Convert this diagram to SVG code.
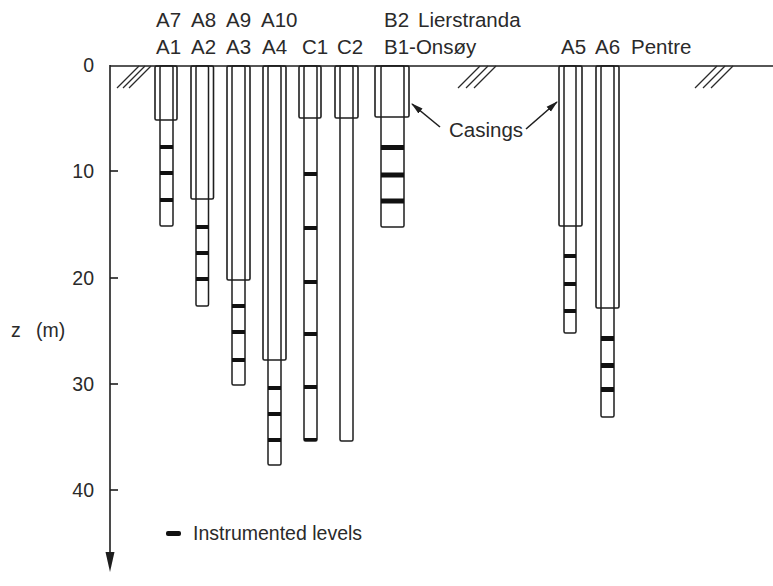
<svg xmlns="http://www.w3.org/2000/svg" width="773" height="586" viewBox="0 0 773 586">
<style>
  .t { font-family: "Liberation Sans", Arial, sans-serif; font-size: 20.5px; fill: #2a2a2a; }
  .ax { font-family: "Liberation Sans", Arial, sans-serif; font-size: 19.5px; fill: #2a2a2a; text-anchor: end; }
  .ln { fill: none; stroke: #1e1e1e; stroke-width: 1.6; }
  .cas { fill: none; stroke: #1e1e1e; stroke-width: 1.6; }
  .pile { fill: #fff; stroke: #1e1e1e; stroke-width: 1.5; }
  .mk { fill: #111; }
  .hatch { stroke: #2a2a2a; stroke-width: 1.2; fill: none; }
</style>
<defs>
  <marker id="ah" viewBox="0 0 12 8" refX="11" refY="4" markerWidth="12" markerHeight="8" markerUnits="userSpaceOnUse" orient="auto">
    <path d="M0,0.8 L12,4 L0,7.2 Z" fill="#1e1e1e"/>
  </marker>
</defs>
<rect width="773" height="586" fill="#fff"/>

<!-- axis -->
<g id="axis">
  <line class="ln" x1="110" y1="65" x2="110" y2="556"/>
  <path d="M105.5,552 L114.5,552 L110,572 Z" fill="#1e1e1e"/>
  <line class="ln" x1="110" y1="66" x2="773" y2="66"/>
  <line class="ln" x1="110" y1="171" x2="118" y2="171"/>
  <line class="ln" x1="110" y1="278" x2="118" y2="278"/>
  <line class="ln" x1="110" y1="384" x2="118" y2="384"/>
  <line class="ln" x1="110" y1="490" x2="118" y2="490"/>
  <text class="ax" x="94" y="72">0</text>
  <text class="ax" x="94" y="178">10</text>
  <text class="ax" x="94" y="285">20</text>
  <text class="ax" x="94" y="391">30</text>
  <text class="ax" x="94" y="497">40</text>
  <text class="t" x="11" y="337" style="font-size:19.5px">z</text>
  <text class="t" x="36" y="337" style="font-size:19.5px">(m)</text>
  <g class="hatch">
    <line x1="117" y1="88" x2="139" y2="66"/>
    <line x1="123" y1="88" x2="145" y2="66"/>
    <line x1="129" y1="88" x2="151" y2="66"/>
    <line x1="458" y1="88" x2="480" y2="66"/>
    <line x1="466" y1="88" x2="488" y2="66"/>
    <line x1="474" y1="88" x2="496" y2="66"/>
    <line x1="695" y1="88" x2="717" y2="66"/>
    <line x1="703" y1="88" x2="725" y2="66"/>
    <line x1="711" y1="88" x2="733" y2="66"/>
  </g>
</g>

<!-- piles -->
<g id="A1">
  <rect class="pile" x="160" y="66" width="13" height="160" rx="1.5"/>
  <rect class="cas" x="155" y="66" width="22" height="54" rx="1.5"/>
  <rect class="mk" x="160" y="145" width="13" height="4"/>
  <rect class="mk" x="160" y="171" width="13" height="4"/>
  <rect class="mk" x="160" y="198" width="13" height="4"/>
</g>
<g id="A2">
  <rect class="pile" x="196" y="66" width="12.5" height="240" rx="1.5"/>
  <rect class="cas" x="191" y="66" width="22.5" height="133" rx="1.5"/>
  <rect class="mk" x="196" y="225" width="12.5" height="4"/>
  <rect class="mk" x="196" y="251" width="12.5" height="4"/>
  <rect class="mk" x="196" y="277" width="12.5" height="4"/>
</g>
<g id="A3">
  <rect class="pile" x="232" y="66" width="13" height="319" rx="1.5"/>
  <rect class="cas" x="227" y="66" width="23" height="214" rx="1.5"/>
  <rect class="mk" x="232" y="304" width="13" height="4"/>
  <rect class="mk" x="232" y="330" width="13" height="4"/>
  <rect class="mk" x="232" y="358" width="13" height="4"/>
</g>
<g id="A4">
  <rect class="pile" x="268" y="66" width="13" height="399" rx="1.5"/>
  <rect class="cas" x="263" y="66" width="23" height="294" rx="1.5"/>
  <rect class="mk" x="268" y="386" width="13" height="4"/>
  <rect class="mk" x="268" y="412" width="13" height="4"/>
  <rect class="mk" x="268" y="438" width="13" height="4"/>
</g>
<g id="C1">
  <rect class="pile" x="304" y="66" width="13" height="375" rx="1.5"/>
  <rect class="cas" x="299" y="66" width="22" height="52" rx="1.5"/>
  <rect class="mk" x="304" y="172" width="13" height="4"/>
  <rect class="mk" x="304" y="226" width="13" height="4"/>
  <rect class="mk" x="304" y="280" width="13" height="4"/>
  <rect class="mk" x="304" y="332" width="13" height="4"/>
  <rect class="mk" x="304" y="385" width="13" height="4"/>
  <rect class="mk" x="304" y="438" width="13" height="3"/>
</g>
<g id="C2">
  <rect class="pile" x="340" y="66" width="13" height="375" rx="1.5"/>
  <rect class="cas" x="335" y="66" width="23" height="52" rx="1.5"/>
</g>
<g id="B1">
  <rect class="pile" x="381" y="66" width="23" height="161" rx="1.5"/>
  <rect class="cas" x="375" y="66" width="34" height="51" rx="1.5"/>
  <rect class="mk" x="381" y="145" width="23" height="5"/>
  <rect class="mk" x="381" y="172.5" width="23" height="5"/>
  <rect class="mk" x="381" y="198.5" width="23" height="5"/>
</g>
<g id="A5">
  <rect class="pile" x="564" y="66" width="12" height="267" rx="1.5"/>
  <rect class="cas" x="559" y="66" width="23" height="160" rx="1.5"/>
  <rect class="mk" x="564" y="254" width="12" height="4"/>
  <rect class="mk" x="564" y="282" width="12" height="4"/>
  <rect class="mk" x="564" y="309" width="12" height="4"/>
</g>
<g id="A6">
  <rect class="pile" x="601" y="66" width="13" height="351" rx="1.5"/>
  <rect class="cas" x="596" y="66" width="23" height="242" rx="1.5"/>
  <rect class="mk" x="601" y="336" width="13" height="5"/>
  <rect class="mk" x="601" y="363" width="13" height="5"/>
  <rect class="mk" x="601" y="387" width="13" height="5"/>
</g>

<!-- labels -->
<g id="labels">
  <text class="t" x="156" y="27">A7</text>
  <text class="t" x="191" y="27">A8</text>
  <text class="t" x="226" y="27">A9</text>
  <text class="t" x="261" y="27">A10</text>
  <text class="t" x="384" y="27">B2</text>
  <text class="t" x="418" y="27">Lierstranda</text>
  <text class="t" x="156" y="54">A1</text>
  <text class="t" x="191" y="54">A2</text>
  <text class="t" x="226" y="54">A3</text>
  <text class="t" x="262" y="54">A4</text>
  <text class="t" x="302" y="54">C1</text>
  <text class="t" x="337" y="54">C2</text>
  <text class="t" x="384" y="54">B1-Onsøy</text>
  <text class="t" x="561" y="54">A5</text>
  <text class="t" x="595" y="54">A6</text>
  <text class="t" x="631" y="54">Pentre</text>
  <text class="t" x="449" y="137">Casings</text>
</g>

<!-- connectors -->
<g id="connectors">
  <line class="ln" x1="440" y1="127" x2="412" y2="104" marker-end="url(#ah)"/>
  <line class="ln" x1="526" y1="129" x2="557" y2="102" marker-end="url(#ah)"/>
</g>

<!-- legend -->
<g id="legend">
  <rect class="mk" x="166" y="531" width="15" height="5" rx="2"/>
  <text class="t" x="193" y="540" style="font-size:19.5px">Instrumented levels</text>
</g>
</svg>
